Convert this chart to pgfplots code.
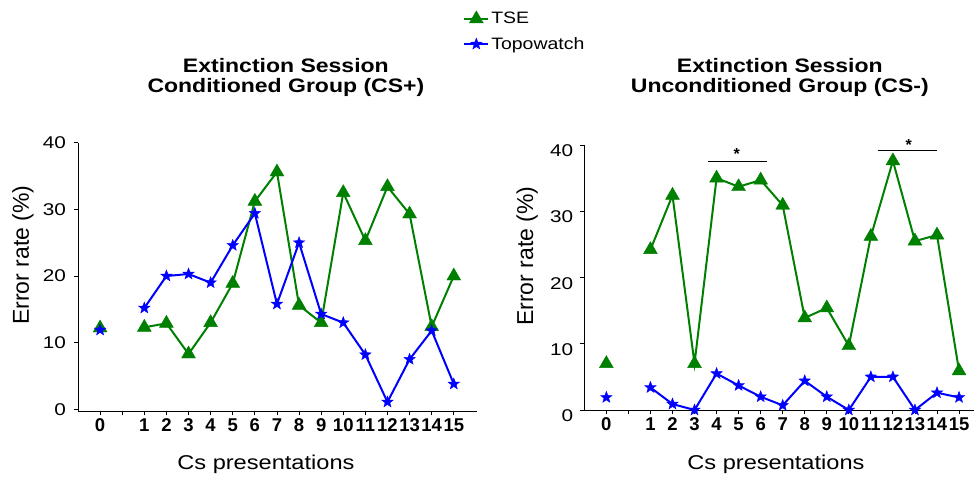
\documentclass[border=0pt]{standalone}
\usepackage{fontspec}
\setmainfont{Liberation Sans}
\newfontfamily\wide[FakeStretch=1.18]{Liberation Sans}
\newfontfamily\ywide[FakeStretch=1.22]{Liberation Sans}
\usepackage{pgfplots}
\pgfplotsset{compat=1.18}

\definecolor{tsegreen}{RGB}{0,128,0}
\definecolor{topoblue}{RGB}{0,0,255}

\pgfdeclareplotmark{fstar}{%
 \pgfpathmoveto{\pgfpointpolar{90}{\pgfplotmarksize}}%
 \pgfpathlineto{\pgfpointpolar{126}{0.42\pgfplotmarksize}}%
 \pgfpathlineto{\pgfpointpolar{162}{\pgfplotmarksize}}%
 \pgfpathlineto{\pgfpointpolar{198}{0.42\pgfplotmarksize}}%
 \pgfpathlineto{\pgfpointpolar{234}{\pgfplotmarksize}}%
 \pgfpathlineto{\pgfpointpolar{270}{0.42\pgfplotmarksize}}%
 \pgfpathlineto{\pgfpointpolar{306}{\pgfplotmarksize}}%
 \pgfpathlineto{\pgfpointpolar{342}{0.42\pgfplotmarksize}}%
 \pgfpathlineto{\pgfpointpolar{18}{\pgfplotmarksize}}%
 \pgfpathlineto{\pgfpointpolar{54}{0.42\pgfplotmarksize}}%
 \pgfpathclose
 \pgfusepathqfillstroke}

\pgfplotsset{
  tse/.style={tsegreen, line width=2pt, mark=triangle*, mark size=8pt, mark options={solid, line width=0.4pt}},
  topo/.style={topoblue, line width=2pt, mark=fstar, mark size=6pt, mark options={solid, line width=0.4pt}},
  common/.style={
    scale only axis,
    axis x line=bottom, axis y line=left,
    axis line style={-, line width=0.9pt, black},
    tick align=outside, major tick length=4.5pt,
    tick style={black, line width=0.9pt},
    xtick={-1,0,...,15},
    xticklabels={0,,1,2,3,4,5,6,7,8,9,10,11,12,13,14,15},
    ytick={0,10,20,30,40},
    /pgf/number format/assume math mode=true,
    xticklabel style={font=\bfseries\fontsize{18.5}{18.5}\selectfont, inner sep=1pt, yshift=-2pt},
    yticklabel style={font=\ywide\fontsize{17}{17}\selectfont},
    ylabel={Error rate (\%)},
    xlabel={Cs presentations},
    ylabel style={font=\fontsize{23}{23}\selectfont, anchor=center, rotate=0},
    xlabel style={font=\wide\fontsize{20}{20}\selectfont, anchor=center},
    title style={font=\wide\bfseries\fontsize{19.5}{20}\selectfont, align=center, anchor=center},
    unbounded coords=jump,
    clip=false,
  },
}

\begin{document}
\begin{tikzpicture}
\path[use as bounding box] (0,0) rectangle (974pt,478pt);

\begin{axis}[common,
  at={(78pt,67pt)}, anchor=south west,
  width=399pt, height=268.3pt,
  xmin=-2, xmax=16.05, ymin=-0.25, ymax=40,
  yticklabel style={xshift=-4pt},
  title={Extinction Session\\Conditioned Group (CS+)},
  title style={at={(axis description cs:0.521,1.222)}},
  ylabel style={at={(axis description cs:-0.138,0.581)}},
  xlabel style={at={(axis description cs:0.471,-0.197)}},
  legend cell align=left,
  legend style={draw=none, fill=none, font=\wide\fontsize{16.5}{16.5}\selectfont,
    at={(axis description cs:1.12,1.414)}, anchor=center, row sep=8pt},
  legend image code/.code={\draw[mark repeat=2,mark phase=2] plot coordinates {(0cm,0cm) (0.42cm,0cm) (0.84cm,0cm)};},
]
\addplot[tse] coordinates {(-1,12.2) (0,nan) (1,12.3) (2,12.9) (3,8.3) (4,13.0) (5,18.9) (6,31.2) (7,35.6) (8,15.6) (9,13.0) (10,32.5) (11,25.3) (12,33.4) (13,29.3) (14,12.4) (15,20.0)};
\addlegendentry{TSE}
\addplot[topo] coordinates {(-1,11.9) (0,nan) (1,15.2) (2,20.0) (3,20.3) (4,19.0) (5,24.6) (6,29.4) (7,15.8) (8,25.0) (9,14.3) (10,13.0) (11,8.2) (12,1.1) (13,7.5) (14,11.8) (15,3.8)};
\addlegendentry{Topowatch}
\end{axis}

\begin{axis}[common,
  at={(584.3pt,68pt)}, anchor=south west,
  width=389.5pt, height=265pt,
  xmin=-2, xmax=15.67, ymin=0, ymax=40,
  yticklabel style={xshift=-3pt, text height=23.5pt, text depth=0pt},
  title={Extinction Session\\Unconditioned Group (CS-)},
  title style={at={(axis description cs:0.502,1.234)}},
  ylabel style={at={(axis description cs:-0.147,0.581)}},
  xlabel style={at={(axis description cs:0.492,-0.204)}},
]
\addplot[tse] coordinates {(-1,7.0) (0,nan) (1,24.2) (2,32.4) (3,7.0) (4,35.0) (5,33.7) (6,34.7) (7,30.9) (8,13.9) (9,15.4) (10,9.7) (11,26.2) (12,37.6) (13,25.5) (14,26.4) (15,5.9)};
\addplot[topo] coordinates {(-1,1.9) (0,nan) (1,3.4) (2,0.9) (3,0.0) (4,5.5) (5,3.7) (6,2.0) (7,0.7) (8,4.4) (9,2.0) (10,0.0) (11,5.0) (12,5.0) (13,0.0) (14,2.6) (15,1.9)};
\addplot[black, line width=1pt, no marks, forget plot] coordinates {(3.6,37.5) (6.28,37.5)};
\addplot[black, line width=1pt, no marks, forget plot] coordinates {(11.31,39.1) (13.99,39.1)};
\node[font=\bfseries\fontsize{16}{16}\selectfont] at (axis cs:4.91,38.6) {*};
\node[font=\bfseries\fontsize{16}{16}\selectfont] at (axis cs:12.72,40.0) {*};
\end{axis}
\end{tikzpicture}
\end{document}
